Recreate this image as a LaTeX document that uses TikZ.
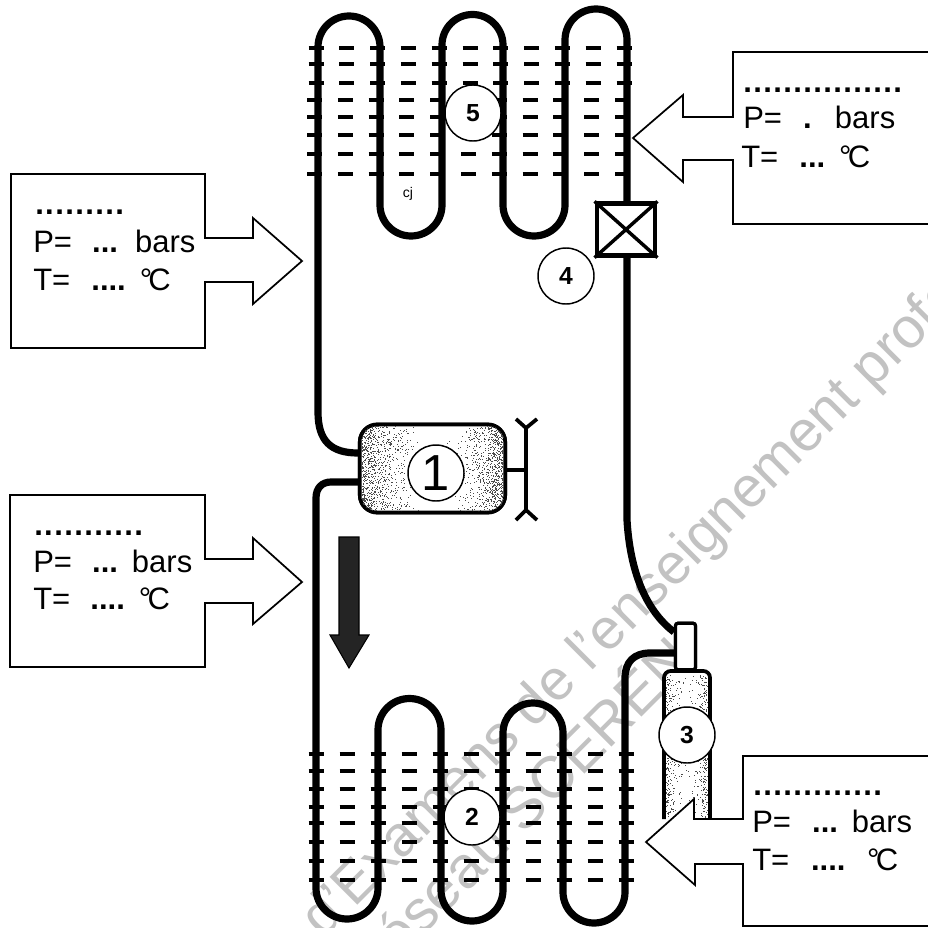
\documentclass[tikz,border=0pt]{standalone}
\usepackage{fontspec}
\setmainfont{Liberation Sans}
\newfontfamily\dotfont[LetterSpace=4.5]{Liberation Sans}
\newcommand{\lbl}{\fontsize{23.25}{28}\selectfont}
\newcommand{\stipple}[6]{% x0, span (signed), y0, y1, count, colour
  \foreach \k in {1,...,#5}{%
    \pgfmathsetmacro{\px}{#1+(#2)*rnd*rnd}%
    \pgfmathsetmacro{\py}{#3+(#4-#3)*rnd}%
    \fill[#6] (\px,\py) rectangle +(1,1);}}
\begin{document}
\begin{tikzpicture}[x=0.75pt,y=-0.75pt,
  pipe/.style={line width=5.4pt,line cap=butt,line join=round},
  fin/.style={line width=3pt},
  callout/.style={draw=black,fill=white,line width=1.3pt,line join=miter},
  infotext/.style={inner sep=0pt,anchor=base west,font=\lbl,text=black},
  numcirc/.style={draw=black,fill=white,circle,line width=1.1pt,minimum size=42pt,inner sep=0pt},
  numbf/.style={numcirc,font=\fontsize{18.5}{20}\selectfont\bfseries},
  compbox/.style={draw=black,line width=2.8pt,rounded corners=13pt,minimum width=109pt,minimum height=66pt,inner sep=0pt},
  valvebox/.style={draw=black,fill=white,line width=3.2pt,minimum width=44pt,minimum height=39pt,inner sep=0pt},
  neckbox/.style={draw=black,fill=white,line width=2.4pt,minimum width=15pt,minimum height=35pt,inner sep=0pt,rounded corners=2pt},
  wm/.style={inner sep=0pt,anchor=base west,rotate=45,text=black!24}]
\path[use as bounding box] (0,0) rectangle (928,928);
\fill[white] (0,0) rectangle (928,928);
\pgfmathsetseed{7}

% watermark
\begin{scope}
\clip (0,0) rectangle (928,928);
\node[wm,font=\fontsize{42.8}{46}\selectfont] (wma) at (323,940) {d'Examens de l'enseignement professionnel};
\node[wm,font=\fontsize{44}{46}\selectfont] (wmb) at (369,990) {Réseau SCÉRÉN};
\end{scope}

% named parts
\node[compbox] (comp) at (432.5,468.5) {};
\node[valvebox] (valve) at (626,229.5) {};
\coordinate (valveN) at (627,203);
\coordinate (valveS) at (627,256);
\coordinate (compUp) at (358,453);
\coordinate (compDn) at (358,482);
\coordinate (neckUp) at (674,632);
\coordinate (neckDn) at (674,653);
\coordinate (shaftA) at (526,470);

% receiver body (3)
\draw[black,line width=2.8pt,fill=white,rounded corners=5pt]
  (664,819) -- (664,671) -- (710,671) -- (710,819);
\stipple{666}{24}{674}{818}{320}{black!70}
\stipple{707}{-20}{674}{818}{320}{black!70}
\node[neckbox] (neck) at (685.5,646.5) {};

% fins
\foreach \fy/\dx in {48/0,64/0,83/0,100/-1.5,117/-1.5,135/-1.5,154/-1.5,174/-1.5}
  \foreach \i in {0,...,10}
    \draw[fin] ({316+30.8*\i+\dx-7.5},\fy) -- ++(15,0);
\foreach \fy in {754,771,789,807,823,842,861,880}
  \foreach \i in {0,...,10}
    \draw[fin] ({316+31*\i-7.5},\fy) -- ++(15,0);

% condenser coil
\draw[pipe] (compUp) .. controls (331,453) and (318,441) .. (318,412) -- (318,47)
  arc[start angle=180,end angle=360,radius=31] -- (380,205)
  arc[start angle=180,end angle=0,radius=31] -- (442,45)
  arc[start angle=180,end angle=360,radius=30.5] -- (503,205)
  arc[start angle=180,end angle=0,radius=31] -- (565,40)
  arc[start angle=180,end angle=360,radius=31] -- (valveN);
% evaporator coil
\draw[pipe] (compDn) -- (331,482) .. controls (322,482) and (316,488) .. (316,498) -- (316,888)
  arc[start angle=180,end angle=0,radius=31] -- (378,730)
  arc[start angle=180,end angle=360,radius=31.5] -- (441,890)
  arc[start angle=180,end angle=0,radius=31] -- (503,733)
  arc[start angle=180,end angle=360,radius=30] -- (563,892)
  arc[start angle=180,end angle=0,radius=31] -- (625,678)
  .. controls (625,662) and (634,653) .. (650,653) -- (neckDn);
% liquid line
\draw[pipe] (valveS) -- (627,520) .. controls (630,570) and (645,610) .. (neckUp);

% redraw over pipes
\node[compbox,fill=white] (compb) at (comp) {};
\begin{scope}
\clip[rounded corners=11pt] (361,426) rectangle (504,511);
\stipple{360}{66}{425}{512}{1000}{black!70}
\stipple{504}{-58}{425}{512}{950}{black!70}
\end{scope}
\node[valvebox] (valveb) at (valve) {};
\draw[line width=2.6pt] (valveb.north west) -- (valveb.south east) (valveb.north east) -- (valveb.south west);
\node[neckbox] (neckb) at (neck) {};

% motor shaft and fork
\draw[line width=2.8pt] (compb.east |- shaftA) -- (shaftA);
\draw[line width=2.8pt] (526,428) -- (526,510);
\draw[line width=2.8pt] (516,419) -- (526,428) -- (537,419);
\draw[line width=2.8pt] (516,520) -- (526,510) -- (537,520);

% flow arrow
\path[draw=black,line width=.8pt,fill=black!86]
  (339,537) -- (359,537) -- (359,635) -- (369,635) -- (349,668) -- (330,635) -- (339,635) -- cycle;

% callouts
\draw[callout] (11,174) -- (205,174) -- (205,238) -- (253,238) -- (253,218) -- (302,261) -- (253,304) -- (253,282) -- (205,282) -- (205,348) -- (11,348) -- cycle;
\draw[callout] (10,495) -- (205,495) -- (205,559) -- (253,559) -- (253,538) -- (302,582) -- (253,624) -- (253,603) -- (205,603) -- (205,667) -- (10,667) -- cycle;
\draw[callout] (935,52) -- (733,52) -- (733,117) -- (683,117) -- (683,95) -- (633,138) -- (683,182) -- (683,160) -- (733,160) -- (733,224) -- (935,224);
\draw[callout] (935,756) -- (743,756) -- (743,819) -- (694,819) -- (694,799) -- (646,842) -- (695,885) -- (695,864) -- (743,864) -- (743,926) -- (935,926);

% callout texts
\node[infotext] (a0) at (35,214) {\dotfont\bfseries .........};
\node[infotext] (a1) at (33,252) {P=\kern.65em\textbf{...}\kern.55em bars};
\node[infotext] (a2) at (33,290) {T=\kern.68em\textbf{....}\kern.45em °\kern-.12em C};
\node[infotext] (b0) at (34,535) {\dotfont\bfseries ...........};
\node[infotext] (b1) at (33,572) {P=\kern.65em\textbf{...}\kern.45em bars};
\node[infotext] (b2) at (33,609) {T=\kern.65em\textbf{....}\kern.45em °\kern-.12em C};
\node[infotext] (c0) at (743,92) {\dotfont\bfseries ................};
\node[infotext] (c1) at (743,128) {P=\kern.68em\textbf{.}\kern.75em bars};
\node[infotext] (c2) at (741,167) {T=\kern.68em\textbf{...}\kern.45em °\kern-.12em C};
\node[infotext] (d0) at (753,795) {\dotfont\bfseries .............};
\node[infotext] (d1) at (752,832) {P=\kern.68em\textbf{...}\kern.45em bars};
\node[infotext] (d2) at (752,870) {T=\kern.7em\textbf{....}\kern.7em °\kern-.12em C};
\node[inner sep=0pt,anchor=base,font=\fontsize{10.5}{12}\selectfont] (cj) at (408,197) {cj};

% numbered circles
\node[numcirc,font=\fontsize{38}{40}\selectfont] (n1) at (436,473) {1};
\node[numbf] (n2) at (472,817) {2};
\node[numbf] (n3) at (687,735) {3};
\node[numbf] (n4) at (566,276) {4};
\node[numbf] (n5) at (473,113) {5};
\end{tikzpicture}
\end{document}
